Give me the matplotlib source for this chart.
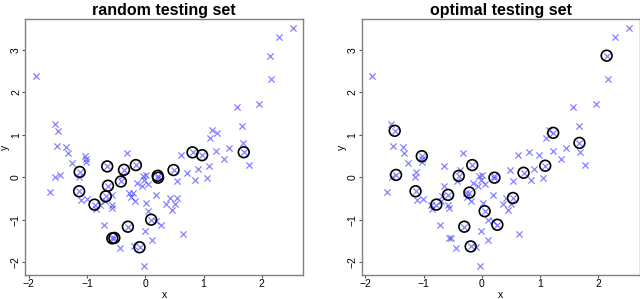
import matplotlib
matplotlib.use("Agg")
import matplotlib.pyplot as plt
import numpy as np

plt.rcParams['font.family'] = ['Liberation Sans', 'DejaVu Sans']

# data points (x, y) shared by both panels
x_vals = [-1.885, -1.558, -1.495, 2.536, 2.296, 2.145, 2.165, 1.96, 1.574, 1.664,
          1.152, 1.227, 1.11, 1.678, 1.69, 1.777, 1.445, 1.355, 1.22, 1.09,
          1.055, 0.975, 0.897, 0.85, 0.81, 0.718, 0.617, 0.484, 0.54, 0.536,
          0.425, 0.36, 0.457, 0.505, 0.64, 0.19, 0.212, 0.218, 0.268, 0.19,
          0.10, 0.05, 0.015, -0.006, -0.03, 0.112, -0.10, -0.19, -0.04, 0.01,
          -0.02, -0.06, 0.05, -0.149, -0.163, -0.178, -0.212, -0.245, -0.275, -0.30,
          -0.321, -0.367, -0.395, -0.42, -0.435, -0.567, -0.533, -0.578, -0.578, -0.567,
          -0.642, -0.655, -0.68, -0.715, -0.78, -0.70, -0.873, -0.853, -1.008, -1.105,
          -1.137, -1.128, -1.14, -1.03, -1.025, -1.02, -1.26, -1.334, -1.357, -1.524,
          -1.472, -1.55, -1.63]
y_vals = [2.38, 1.245, 1.095, 3.506, 3.30, 2.865, 2.32, 1.726, 1.648, 1.206,
          1.12, 1.047, 0.93, 0.81, 0.59, 0.29, 0.692, 0.433, 0.613, 0.272,
          -0.024, 0.52, 0.197, -0.063, 0.587, 0.105, 0.532, 0.17, -0.079, -0.489,
          -0.48, -0.625, -0.78, -0.625, -1.332, -0.41, 0.035, -0.01, -1.12, -1.03,
          -1.0, -0.80, -0.61, -1.27, -2.08, -1.47, -1.65, -1.63, 0.03, 0.05,
          -0.06, -0.21, -0.17, -0.134, 0.287, -0.567, -0.362, -0.47, -0.362, -1.165,
          0.583, 0.175, 0.032, -0.10, -1.663, -1.44, -1.43, -0.415, -0.65, -0.735,
          -0.20, 0.256, -0.45, -1.115, -0.645, -0.57, -0.646, -0.752, -0.512, -0.528,
          -0.33, 0.125, -0.005, 0.496, 0.43, 0.36, 0.339, 0.575, 0.717, 0.745,
          0.055, 0.007, -0.339]
# membership in the testing sets (1 = circled)
in_random = [0, 0, 0, 0, 0, 0, 0, 0, 0, 0,
             0, 0, 0, 0, 1, 0, 0, 0, 0, 0,
             0, 1, 0, 0, 1, 0, 0, 1, 0, 0,
             0, 0, 0, 0, 0, 0, 1, 1, 0, 0,
             1, 0, 0, 0, 0, 0, 1, 0, 0, 0,
             0, 0, 0, 0, 1, 0, 0, 0, 0, 1,
             0, 1, 0, 1, 0, 1, 1, 0, 0, 0,
             1, 1, 1, 0, 0, 0, 1, 0, 0, 0,
             1, 1, 0, 0, 0, 0, 0, 0, 0, 0,
             0, 0, 0]
in_optimal = [0, 0, 1, 0, 0, 1, 0, 0, 0, 0,
              0, 1, 0, 1, 0, 0, 0, 0, 0, 1,
              0, 0, 0, 0, 0, 1, 0, 0, 0, 1,
              0, 0, 0, 0, 0, 0, 0, 1, 1, 0,
              0, 1, 0, 0, 0, 0, 0, 1, 0, 0,
              0, 0, 0, 0, 1, 0, 1, 0, 0, 1,
              0, 0, 1, 0, 0, 0, 0, 1, 0, 0,
              0, 0, 0, 0, 1, 0, 0, 0, 0, 0,
              1, 0, 0, 1, 0, 0, 0, 0, 0, 0,
              1, 0, 0]
titles = ["random testing set", "optimal testing set"]
x_ticks = [-2, -1, 0, 1, 2]
y_ticks = [-2, -1, 0, 1, 2, 3]

xa = np.array(x_vals)
ya = np.array(y_vals)

fig = plt.figure(figsize=(6.4, 2.99), dpi=100)
W, H = 640, 299
boxes = [(25.3, 19, 278, 256), (361.7, 19, 278, 256)]

def rlim(v):
    r = v.max() - v.min()
    return v.min() - 0.04 * r, v.max() + 0.04 * r

for (l, t, w, h), title, sel in zip(boxes, titles, [in_random, in_optimal]):
    ax = fig.add_axes([l / W, (H - t - h) / H, w / W, h / H])
    ax.scatter(xa, ya, marker='x', s=20, color=(0.15, 0.15, 1.0), alpha=0.6,
               linewidths=0.85, zorder=2)
    m = np.array(sel) == 1
    ax.scatter(xa[m], ya[m], marker='o', s=60, facecolors='none',
               edgecolors='black', linewidths=1.2, zorder=3)
    ax.set_xlim(*rlim(xa))
    ax.set_ylim(*rlim(ya))
    ax.set_xticks(x_ticks)
    ax.set_yticks(y_ticks)
    for s in ax.spines.values():
        s.set_color('#808080')
        s.set_linewidth(1.0)
    ax.tick_params(axis='both', length=2.5, width=0.8, color='#555555',
                   labelsize=7.5, pad=0.6)
    for lab in ax.get_yticklabels():
        lab.set_rotation(90)
        lab.set_va('center')
    ax.set_title(title, fontsize=11.5, fontweight='bold', pad=3)
    # axis labels placed like the reference
    fig.text((l + w / 2) / W, 1 - 295 / H, 'x', fontsize=7.5,
             ha='center', va='center')
    fig.text((l - 20) / W, 1 - (t + h / 2) / H, 'y', fontsize=7.5,
             ha='center', va='center', rotation=90)

fig.savefig('out.png', dpi=100)
